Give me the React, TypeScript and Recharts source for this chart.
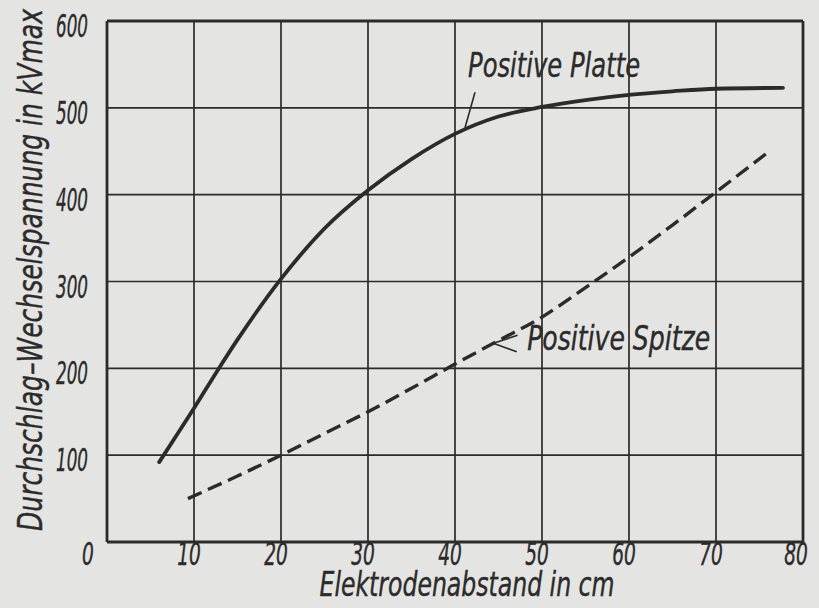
import { CartesianGrid, Line, LineChart, ReferenceDot, ReferenceLine, XAxis, YAxis } from 'recharts';

// Elektrodenabstand (cm) / Durchschlag-Wechselspannung (kV max)
const platteDistance = [6, 8, 10, 12.8, 15, 20, 25, 30, 35, 40, 45, 50, 55, 60, 65, 70, 77.7];
const platteVoltage = [92, 123, 154, 199, 233, 303, 361, 405, 441, 470, 490, 501, 509, 515, 519, 522, 523];

const spitzeDistance = [9.3, 15, 20, 25, 30, 35, 40, 45, 50, 55, 60, 65, 70, 76];
const spitzeVoltage = [50, 76, 100, 125, 150, 177, 205, 232, 259, 293, 328, 365, 403, 449];

const xTicks = [0, 10, 20, 30, 40, 50, 60, 70, 80];
const yTicks = [0, 100, 200, 300, 400, 500, 600];

const platteData = platteDistance.map((d, i) => ({ d, kv: platteVoltage[i] }));
const spitzeData = spitzeDistance.map((d, i) => ({ d, kv: spitzeVoltage[i] }));

const INK = '#2b2b2b';
const PAPER = '#e4e4e2';
const FONT = "'DejaVu Sans Condensed', 'Liberation Sans Narrow', 'DejaVu Sans', sans-serif";

const letter = {
  fontFamily: FONT,
  fontStyle: 'italic' as const,
  fill: INK,
  stroke: INK,
  strokeWidth: 0.4,
  lengthAdjust: 'spacingAndGlyphs' as const,
};

function XTick({ x, y, payload }: any) {
  const v = payload.value;
  const label = String(v);
  const dx = v === 0 ? -19 : v === 80 ? -7 : -5;
  return (
    <text {...letter} x={x + dx} y={y + 12} textAnchor="middle" dominantBaseline="central" fontSize={32} textLength={label.length * 11.8}>
      {label}
    </text>
  );
}

function YTick({ x, y, payload }: any) {
  if (payload.value === 0) return null;
  return (
    <text {...letter} x={x - 19} y={y + 5} textAnchor="end" dominantBaseline="central" fontSize={32} textLength={32}>
      {String(payload.value)}
    </text>
  );
}

function note(text: string, width: number) {
  return (props: any) => (
    <text {...letter} x={props.cx} y={props.cy} fontSize={34} textLength={width}>
      {text}
    </text>
  );
}

export default function App() {
  return (
    <div style={{ position: 'absolute', left: 0, top: 0, width: 819, height: 608, background: PAPER }}>
      <LineChart width={819} height={608} data={platteData} margin={{ top: 21, right: 16, bottom: 0, left: 0 }}>
        <CartesianGrid stroke={INK} strokeWidth={1.7} fill="none" />
        <XAxis
          dataKey="d"
          type="number"
          domain={[0, 80]}
          ticks={xTicks}
          height={66}
          tickSize={0}
          tickMargin={0}
          tickLine={false}
          axisLine={{ stroke: INK, strokeWidth: 2.8 }}
          tick={<XTick />}
          interval={0}
          label={{
            content: () => (
              <text {...letter} x={467} y={596} textAnchor="middle" fontSize={34} textLength={295}>
                Elektrodenabstand in cm
              </text>
            ),
          }}
        />
        <YAxis
          type="number"
          domain={[0, 600]}
          ticks={yTicks}
          width={107}
          tickSize={0}
          tickMargin={0}
          tickLine={false}
          axisLine={{ stroke: INK, strokeWidth: 2.8 }}
          tick={<YTick />}
          interval={0}
          label={{
            content: () => (
              <text
                {...letter}
                x={42}
                y={270}
                transform="rotate(-90, 42, 270)"
                textAnchor="middle"
                fontSize={33}
                textLength={522}
              >
                Durchschlag–Wechselspannung in kVmax
              </text>
            ),
          }}
        />
        <ReferenceLine x={80} stroke={INK} strokeWidth={2.8} />
        <ReferenceLine y={600} stroke={INK} strokeWidth={2.8} />

        <Line
          data={platteData}
          dataKey="kv"
          type="monotone"
          stroke={INK}
          strokeWidth={3.8}
          strokeLinecap="round"
          dot={false}
          isAnimationActive={false}
        />
        <Line
          data={spitzeData}
          dataKey="kv"
          type="monotone"
          stroke={INK}
          strokeWidth={3.4}
          strokeDasharray="15 7"
          dot={false}
          isAnimationActive={false}
        />

        <ReferenceLine
          segment={[{ x: 42.3, y: 518 }, { x: 41.15, y: 477 }]}
          stroke={INK}
          strokeWidth={1.6}
          ifOverflow="visible"
        />
        <ReferenceLine
          segment={[{ x: 47.2, y: 238 }, { x: 44.4, y: 229 }]}
          stroke={INK}
          strokeWidth={1.6}
          ifOverflow="visible"
        />
        <ReferenceLine
          segment={[{ x: 44.4, y: 229 }, { x: 47.1, y: 219 }]}
          stroke={INK}
          strokeWidth={1.6}
          ifOverflow="visible"
        />
        <ReferenceDot x={41.5} y={535.5} r={0} ifOverflow="visible" shape={note('Positive Platte', 172)} />
        <ReferenceDot x={48.3} y={221} r={0} ifOverflow="visible" shape={note('Positive Spitze', 183)} />
      </LineChart>
    </div>
  );
}
